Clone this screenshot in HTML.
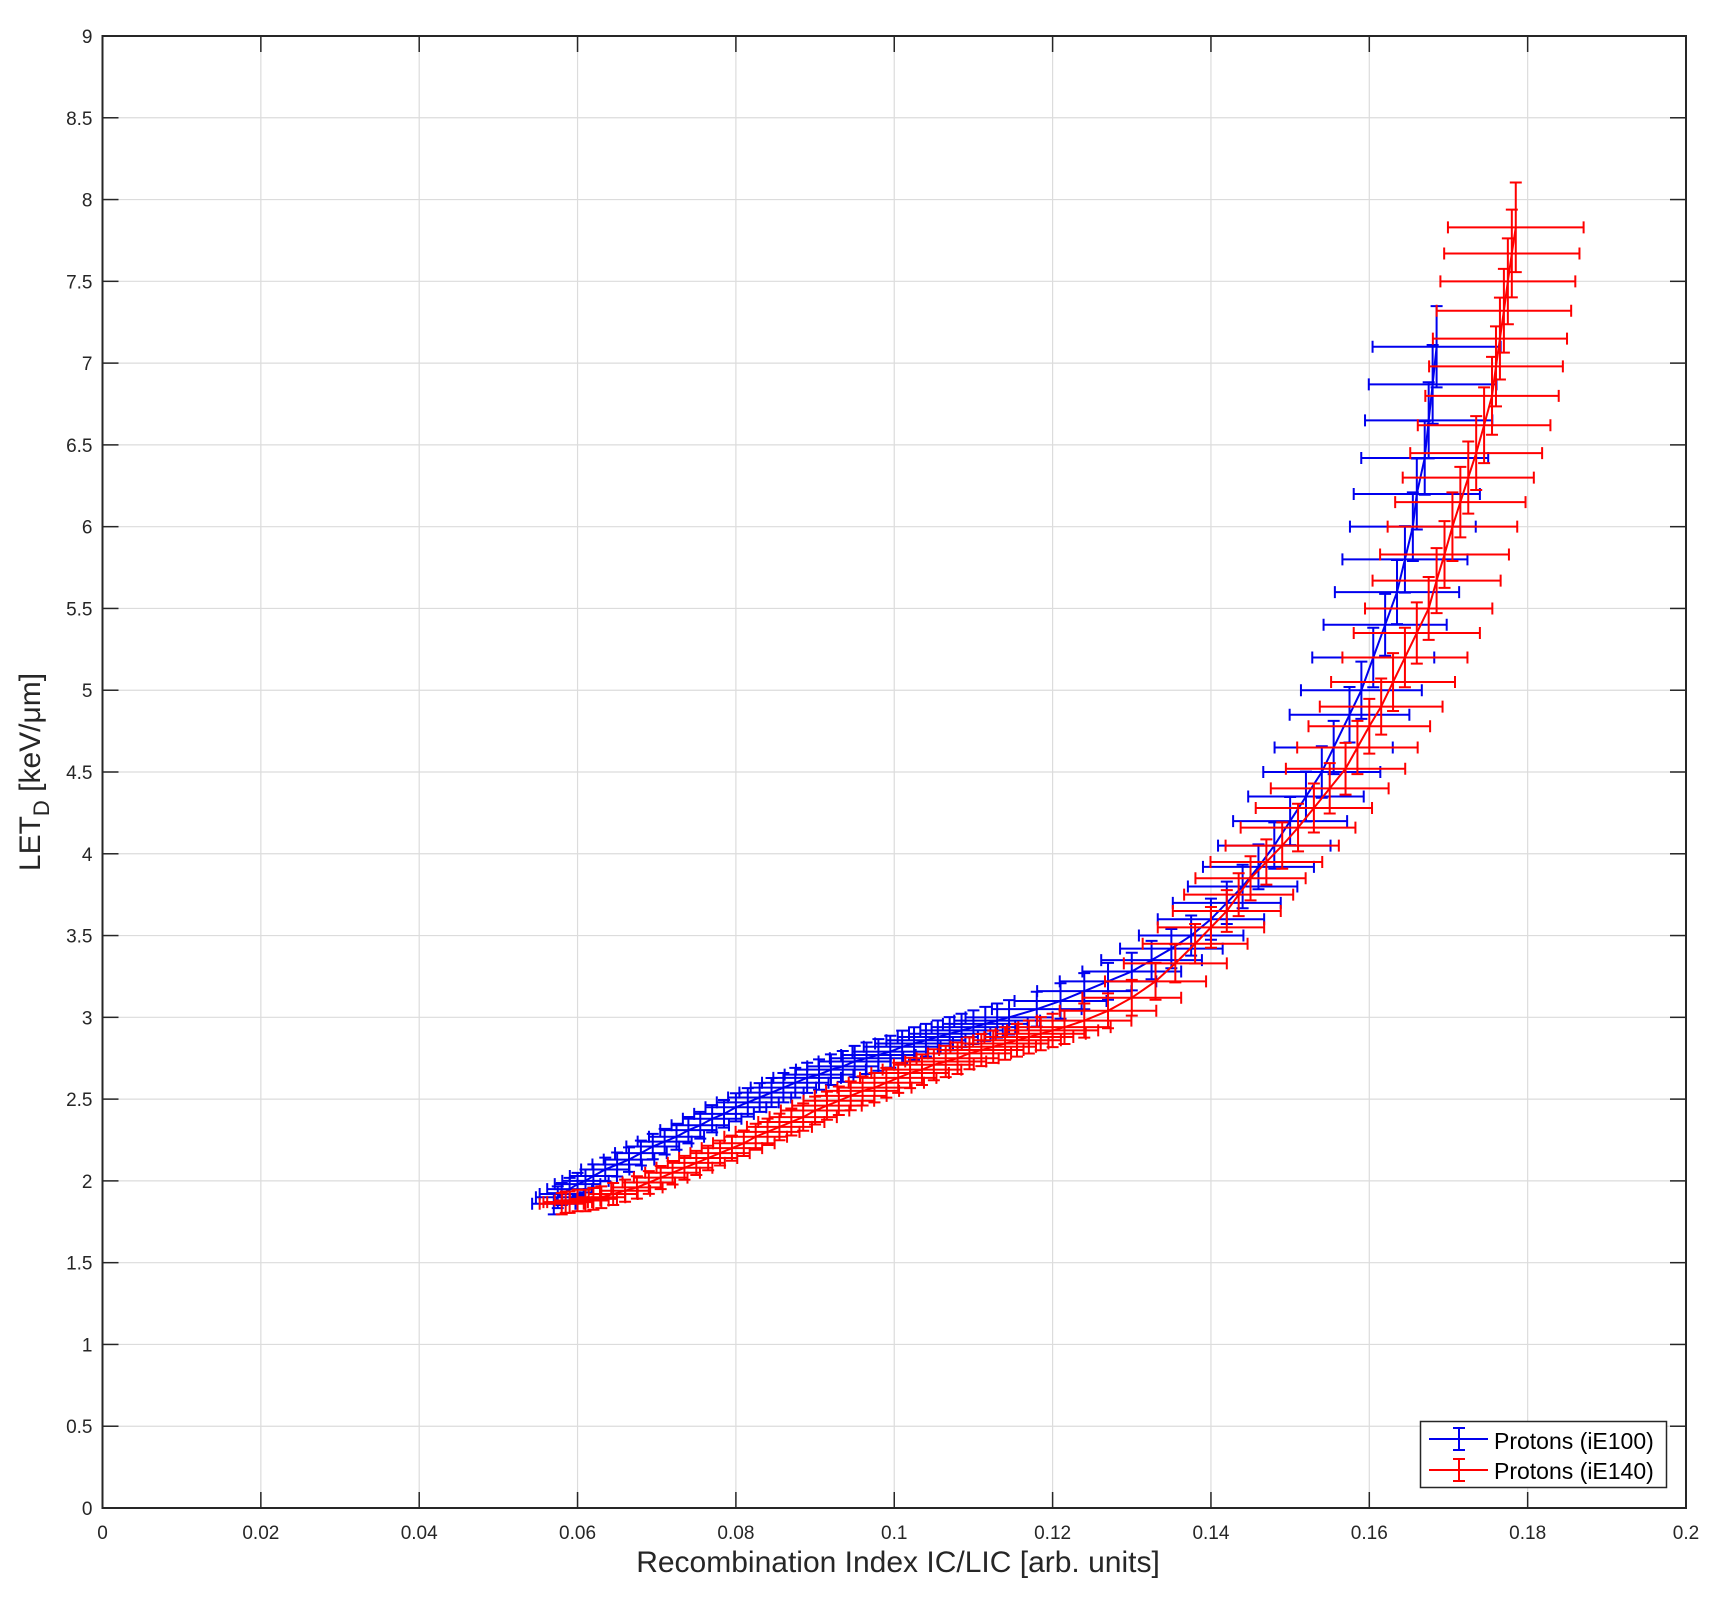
<!DOCTYPE html>
<html><head><meta charset="utf-8"><style>
html,body{margin:0;padding:0;background:#fff;}
svg{display:block;font-family:"Liberation Sans",sans-serif;}
</style></head><body>
<svg id="chart" width="1716" height="1599" xmlns="http://www.w3.org/2000/svg">
<rect x="0" y="0" width="1716" height="1599" fill="#fff"/>
<g id="grid"></g>
<g id="ticks"></g>
<g id="series"></g>
<rect x="102.5" y="36" width="1583.5" height="1472" fill="none" stroke="#262626" stroke-width="2"/>
<text x="898" y="1572" font-size="30" text-anchor="middle" fill="#262626">Recombination Index IC/LIC [arb. units]</text>
<text transform="translate(40,772) rotate(-90)" font-size="30" text-anchor="middle" fill="#262626">LET<tspan font-size="22" dy="9">D</tspan><tspan dy="-9"> [keV/μm]</tspan></text>
<g>
<rect x="1420.5" y="1421.5" width="246" height="66" fill="#fff" stroke="#262626" stroke-width="1.5"/>
<g>
<line x1="1429" y1="1439" x2="1488" y2="1439" stroke="#0000ee" stroke-width="2"/>
<line x1="1459" y1="1428" x2="1459" y2="1450" stroke="#0000ee" stroke-width="2"/>
<line x1="1453" y1="1428" x2="1465" y2="1428" stroke="#0000ee" stroke-width="2"/>
<line x1="1453" y1="1450" x2="1465" y2="1450" stroke="#0000ee" stroke-width="2"/>
<text x="1494" y="1449" font-size="23" fill="#000">Protons (iE100)</text>
</g>
<g>
<line x1="1429" y1="1470" x2="1488" y2="1470" stroke="#ff0000" stroke-width="2"/>
<line x1="1459" y1="1459" x2="1459" y2="1481" stroke="#ff0000" stroke-width="2"/>
<line x1="1453" y1="1459" x2="1465" y2="1459" stroke="#ff0000" stroke-width="2"/>
<line x1="1453" y1="1481" x2="1465" y2="1481" stroke="#ff0000" stroke-width="2"/>
<text x="1494" y="1479" font-size="23" fill="#000">Protons (iE140)</text>
</g>
</g>
</svg>
<script>
const xTicks = [0,0.02,0.04,0.06,0.08,0.1,0.12,0.14,0.16,0.18,0.2];
const xTickLabels = ["0","0.02","0.04","0.06","0.08","0.1","0.12","0.14","0.16","0.18","0.2"];
const yTicks = [0,0.5,1,1.5,2,2.5,3,3.5,4,4.5,5,5.5,6,6.5,7,7.5,8,8.5,9];
const yTickLabels = ["0","0.5","1","1.5","2","2.5","3","3.5","4","4.5","5","5.5","6","6.5","7","7.5","8","8.5","9"];
const blueX = [0.0570,0.0575,0.0580,0.0590,0.0600,0.0610,0.0620,0.0635,0.0650,0.0665,0.0680,0.0695,0.0710,0.0725,0.0740,0.0755,0.0770,0.0785,0.0800,0.0815,0.0830,0.0845,0.0860,0.0875,0.0890,0.0905,0.0920,0.0935,0.0950,0.0965,0.0980,0.0995,0.1010,0.1025,0.1040,0.1055,0.1070,0.1085,0.1100,0.1115,0.1130,0.1145,
  0.118,0.121,0.124,0.127,0.130,0.1325,0.135,0.1375,0.140,0.142,0.144,0.146,0.148,0.150,0.152,0.154,0.1555,0.1575,0.159,0.1605,0.162,0.1635,0.1645,0.1655,0.166,0.167,0.1675,0.168,0.1685];
const blueY = [1.86,1.90,1.92,1.95,1.98,2.00,2.03,2.07,2.10,2.13,2.17,2.21,2.24,2.27,2.31,2.34,2.38,2.41,2.45,2.48,2.51,2.54,2.57,2.60,2.63,2.65,2.68,2.70,2.73,2.75,2.77,2.79,2.82,2.84,2.86,2.88,2.90,2.92,2.94,2.96,2.98,3.00,
  3.05,3.1,3.16,3.22,3.28,3.35,3.42,3.5,3.6,3.7,3.8,3.92,4.05,4.2,4.35,4.5,4.65,4.85,5.0,5.2,5.4,5.6,5.8,6.0,6.2,6.42,6.65,6.87,7.1];
const redX = [0.0580,0.0585,0.0590,0.0600,0.0610,0.0620,0.0630,0.0645,0.0660,0.0675,0.0690,0.0705,0.0720,0.0735,0.0750,0.0765,0.0780,0.0795,0.0810,0.0825,0.0840,0.0855,0.0870,0.0885,0.0900,0.0915,0.0930,0.0945,0.0960,0.0975,0.0990,0.1005,0.1020,0.1035,0.1050,0.1065,0.1080,0.1095,0.1110,0.1125,0.1140,0.1155,0.1170,0.1185,0.1200,0.1215,
  0.124,0.127,0.130,0.133,0.1355,0.138,0.140,0.142,0.1435,0.145,0.147,0.149,0.151,0.153,0.155,0.157,0.1585,0.160,0.1615,0.163,0.1645,0.166,0.1675,0.1685,0.1695,0.1705,0.1715,0.1725,0.1735,0.1745,0.1755,0.176,0.1765,0.177,0.1775,0.178,0.1785];
const redY = [1.86,1.87,1.87,1.88,1.88,1.89,1.90,1.92,1.94,1.96,1.99,2.02,2.05,2.08,2.11,2.14,2.17,2.20,2.23,2.27,2.30,2.33,2.36,2.39,2.43,2.46,2.49,2.52,2.55,2.57,2.60,2.63,2.66,2.68,2.71,2.73,2.75,2.78,2.80,2.82,2.84,2.86,2.88,2.90,2.92,2.94,
  2.98,3.04,3.12,3.22,3.33,3.45,3.55,3.65,3.75,3.85,3.95,4.05,4.16,4.28,4.4,4.52,4.65,4.78,4.9,5.05,5.2,5.35,5.5,5.67,5.83,6.0,6.15,6.3,6.45,6.62,6.8,6.98,7.15,7.32,7.5,7.67,7.83,8.0];
const relErrX = 0.048;
const relErrY = 0.035;

const NS = "http://www.w3.org/2000/svg";
const X0=102.5, X1=1686, Y0=1508, Y1=36;
const sx = v => X0 + (v-0)/(0.2-0)*(X1-X0);
const sy = v => Y0 - (v-0)/(9-0)*(Y0-Y1);
function mk(tag, attrs, parent){ const e=document.createElementNS(NS,tag); for(const k in attrs) e.setAttribute(k,attrs[k]); parent.appendChild(e); return e; }

const grid=document.getElementById('grid'), ticks=document.getElementById('ticks'), series=document.getElementById('series');
xTicks.forEach((t,i)=>{
  const x=sx(t);
  if(i>0&&i<xTicks.length-1){
    const g=mk('line',{x1:x,y1:Y1,x2:x,y2:Y0,stroke:'#dcdcdc','stroke-width':1.2},grid);
    
    
  }
  mk('line',{x1:x,y1:Y0,x2:x,y2:Y0-16,stroke:'#262626','stroke-width':1.5},ticks);
  mk('line',{x1:x,y1:Y1,x2:x,y2:Y1+16,stroke:'#262626','stroke-width':1.5},ticks);
  const tx=mk('text',{x:x,y:Y0+31,'font-size':19,'text-anchor':'middle',fill:'#262626'},ticks);
  tx.textContent=xTickLabels[i];
  
  
});
yTicks.forEach((t,i)=>{
  const y=sy(t);
  if(i>0&&i<yTicks.length-1){
    const g=mk('line',{x1:X0,y1:y,x2:X1,y2:y,stroke:'#dcdcdc','stroke-width':1.2},grid);
    
    
  }
  mk('line',{x1:X0,y1:y,x2:X0+16,y2:y,stroke:'#262626','stroke-width':1.5},ticks);
  mk('line',{x1:X1,y1:y,x2:X1-16,y2:y,stroke:'#262626','stroke-width':1.5},ticks);
  const tx=mk('text',{x:X0-10,y:y+7,'font-size':19,'text-anchor':'end',fill:'#262626'},ticks);
  tx.textContent=yTickLabels[i];
  
  
});

function drawSeries(xs, ys, color, name){
  const g=mk('g',{},series);
  
  
  const pts=xs.map((v,i)=>sx(v)+','+sy(ys[i])).join(' ');
  const pl=mk('polyline',{points:pts,fill:'none',stroke:color,'stroke-width':2},g);
  
  
  xs.forEach((v,i)=>{
    const cx=sx(v), cy=sy(ys[i]);
    const xl=sx(v*(1-relErrX)), xr=sx(v*(1+relErrX));
    const yt=sy(ys[i]*(1+relErrY)), yb=sy(ys[i]*(1-relErrY));
    const p=mk('path',{d:`M${xl},${cy}H${xr}M${xl},${cy-6}V${cy+6}M${xr},${cy-6}V${cy+6}M${cx},${yt}V${yb}M${cx-6},${yt}H${cx+6}M${cx-6},${yb}H${cx+6}`,fill:'none',stroke:color,'stroke-width':2},g);
    
    
  });
}
drawSeries(blueX, blueY, '#0000ee', 'series-ie100');
drawSeries(redX, redY, '#ff0000', 'series-ie140');
</script>
</body></html>
